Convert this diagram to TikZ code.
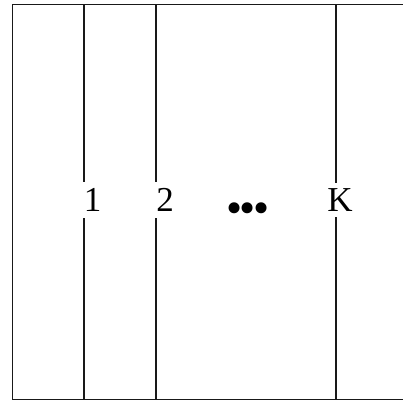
\documentclass[tikz,border=0pt]{standalone}
\usepackage{fontspec}
\setmainfont{Liberation Serif}
\begin{document}
\begin{tikzpicture}[x=1pt,y=-1pt,
    lane/.style={line width=1.1pt, black!90},
    lbl/.style={fill=white, inner sep=6pt, font=\fontsize{35}{40}\selectfont}]
            % fix page size
            \useasboundingbox (0,0) rectangle (403,401);

            % outer frame (right side runs off the page)
            \draw[lane] (12.3,4.5) rectangle (410,399.8);

            % lane borders
            \foreach \x in {84,156,336} {
              \draw[lane] (\x,4.5) -- (\x,399.8);
            }

            % lane labels
            \node[lbl] (one) at (92.5,200) {1};
            \node[lbl] (two) at (165,200) {2};
            \node[lbl, anchor=base, font=\fontsize{46}{50}\selectfont] (dots) at (248,223) {•\kern-2.5pt•\kern-2.5pt•};
            \node[lbl] (k) at (340,200) {K};
        \end{tikzpicture}
\end{document}
